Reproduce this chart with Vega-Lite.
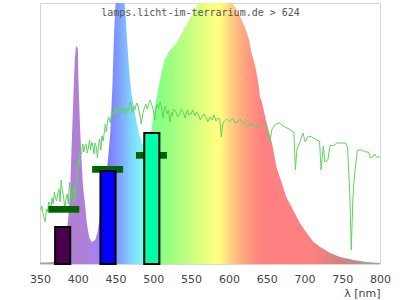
{
  "$schema": "https://vega.github.io/schema/vega-lite/v6.json",
  "width": 340,
  "height": 261,
  "autosize": "none",
  "padding": {"left": 40, "top": 3, "right": 20, "bottom": 36},
  "background": "white",
  "config": {
    "view": {"stroke": "#d6d6d6", "strokeWidth": 1},
    "font": "DejaVu Sans",
    "axis": {"labelOverlap": false, "labelFlush": false}
  },
  "resolve": {"axis": {"x": "independent"}},
  "datasets": {
    "spectrum": [
      {"nm": 350, "v": 1.5}, {"nm": 360, "v": 1.5}, {"nm": 366, "v": 2}, {"nm": 370, "v": 3},
      {"nm": 375, "v": 6}, {"nm": 380, "v": 12}, {"nm": 384, "v": 25}, {"nm": 387, "v": 43},
      {"nm": 390, "v": 75}, {"nm": 392, "v": 121}, {"nm": 394, "v": 164}, {"nm": 396, "v": 204},
      {"nm": 397.6, "v": 218}, {"nm": 400, "v": 216}, {"nm": 401, "v": 181}, {"nm": 403, "v": 137},
      {"nm": 405, "v": 104}, {"nm": 407, "v": 77}, {"nm": 410, "v": 57}, {"nm": 412, "v": 41},
      {"nm": 415, "v": 27}, {"nm": 418, "v": 22}, {"nm": 423, "v": 24}, {"nm": 426, "v": 31},
      {"nm": 430, "v": 50}, {"nm": 435, "v": 70}, {"nm": 440, "v": 105}, {"nm": 443, "v": 131},
      {"nm": 446, "v": 181}, {"nm": 448, "v": 231}, {"nm": 450.5, "v": 268}, {"nm": 455, "v": 300},
      {"nm": 459, "v": 292}, {"nm": 461.6, "v": 264}, {"nm": 463.4, "v": 247}, {"nm": 465.5, "v": 221},
      {"nm": 468, "v": 194}, {"nm": 471, "v": 171}, {"nm": 475, "v": 154}, {"nm": 478, "v": 141},
      {"nm": 481, "v": 131}, {"nm": 485, "v": 121}, {"nm": 489, "v": 116}, {"nm": 493, "v": 117},
      {"nm": 498, "v": 137}, {"nm": 502, "v": 157}, {"nm": 507, "v": 177}, {"nm": 511, "v": 192},
      {"nm": 515, "v": 204}, {"nm": 522, "v": 214}, {"nm": 529, "v": 219}, {"nm": 533, "v": 224},
      {"nm": 540, "v": 234}, {"nm": 546, "v": 242}, {"nm": 553, "v": 252}, {"nm": 560, "v": 262},
      {"nm": 575, "v": 285}, {"nm": 590, "v": 285}, {"nm": 601.5, "v": 264}, {"nm": 608, "v": 257},
      {"nm": 615, "v": 247}, {"nm": 621, "v": 237}, {"nm": 626, "v": 226}, {"nm": 630, "v": 211},
      {"nm": 635, "v": 197}, {"nm": 639, "v": 181}, {"nm": 641, "v": 167}, {"nm": 643, "v": 164},
      {"nm": 650, "v": 141}, {"nm": 657, "v": 121}, {"nm": 663, "v": 97}, {"nm": 670, "v": 81},
      {"nm": 676, "v": 67}, {"nm": 685, "v": 54}, {"nm": 694, "v": 41}, {"nm": 703, "v": 31},
      {"nm": 712, "v": 22}, {"nm": 721, "v": 17}, {"nm": 734, "v": 11}, {"nm": 747, "v": 7},
      {"nm": 765, "v": 4}, {"nm": 782, "v": 2}, {"nm": 800, "v": 1}
    ],
    "sun": [
      {"nm": 351, "v": 54}, {"nm": 352.5, "v": 58}, {"nm": 354, "v": 50}, {"nm": 355.5, "v": 46}, {"nm": 357, "v": 42},
      {"nm": 358.5, "v": 55}, {"nm": 360, "v": 52}, {"nm": 361.5, "v": 62}, {"nm": 363, "v": 60},
      {"nm": 364.5, "v": 55}, {"nm": 366, "v": 66}, {"nm": 367.5, "v": 60}, {"nm": 369, "v": 72},
      {"nm": 370.5, "v": 66}, {"nm": 372, "v": 63}, {"nm": 373.5, "v": 70}, {"nm": 375, "v": 75},
      {"nm": 376.5, "v": 62}, {"nm": 378, "v": 84}, {"nm": 379.5, "v": 74}, {"nm": 381, "v": 68},
      {"nm": 383, "v": 55}, {"nm": 384.5, "v": 66}, {"nm": 386, "v": 70}, {"nm": 387.5, "v": 60},
      {"nm": 389, "v": 82}, {"nm": 391, "v": 66}, {"nm": 393, "v": 62},
      {"nm": 395, "v": 78}, {"nm": 397, "v": 64}, {"nm": 399, "v": 90}, {"nm": 401, "v": 104},
      {"nm": 402, "v": 98}, {"nm": 403, "v": 114}, {"nm": 405, "v": 110}, {"nm": 406.5, "v": 120},
      {"nm": 408, "v": 112}, {"nm": 409.5, "v": 119}, {"nm": 411, "v": 120}, {"nm": 412.5, "v": 111},
      {"nm": 414, "v": 116}, {"nm": 415.5, "v": 124}, {"nm": 417, "v": 114}, {"nm": 418.5, "v": 122},
      {"nm": 420, "v": 118}, {"nm": 421.5, "v": 110}, {"nm": 423, "v": 121}, {"nm": 424.5, "v": 117},
      {"nm": 426, "v": 106}, {"nm": 427.5, "v": 119}, {"nm": 429, "v": 125}, {"nm": 430.5, "v": 114}, {"nm": 432, "v": 128},
      {"nm": 433.5, "v": 123}, {"nm": 435, "v": 131}, {"nm": 436.5, "v": 140}, {"nm": 438, "v": 132},
      {"nm": 439.5, "v": 143}, {"nm": 441, "v": 147}, {"nm": 443, "v": 141}, {"nm": 445, "v": 152},
      {"nm": 447, "v": 149}, {"nm": 449, "v": 157}, {"nm": 451, "v": 150}, {"nm": 453, "v": 153},
      {"nm": 455, "v": 158}, {"nm": 457, "v": 151}, {"nm": 459, "v": 156}, {"nm": 461, "v": 155},
      {"nm": 462.5, "v": 150}, {"nm": 464, "v": 156}, {"nm": 466, "v": 152}, {"nm": 468, "v": 157},
      {"nm": 469.5, "v": 162}, {"nm": 471, "v": 156}, {"nm": 472.5, "v": 151}, {"nm": 474, "v": 158},
      {"nm": 475.5, "v": 154}, {"nm": 477, "v": 159}, {"nm": 478.5, "v": 161}, {"nm": 480, "v": 157},
      {"nm": 482, "v": 150}, {"nm": 484, "v": 140}, {"nm": 486, "v": 150}, {"nm": 488, "v": 156}, {"nm": 490, "v": 160},
      {"nm": 492, "v": 155}, {"nm": 494, "v": 161}, {"nm": 496, "v": 164}, {"nm": 498, "v": 159},
      {"nm": 500, "v": 154}, {"nm": 502, "v": 144}, {"nm": 503.5, "v": 155}, {"nm": 505, "v": 160},
      {"nm": 507, "v": 155}, {"nm": 509, "v": 162}, {"nm": 511, "v": 156}, {"nm": 513, "v": 146},
      {"nm": 514.5, "v": 156}, {"nm": 516, "v": 158}, {"nm": 518, "v": 150}, {"nm": 520, "v": 154},
      {"nm": 522, "v": 142}, {"nm": 524, "v": 152}, {"nm": 525, "v": 148}, {"nm": 527, "v": 155}, {"nm": 530, "v": 152},
      {"nm": 532, "v": 147}, {"nm": 535, "v": 150}, {"nm": 537, "v": 155}, {"nm": 540, "v": 151},
      {"nm": 542, "v": 146}, {"nm": 545, "v": 154}, {"nm": 547, "v": 149}, {"nm": 550, "v": 150},
      {"nm": 552, "v": 154}, {"nm": 555, "v": 148}, {"nm": 557, "v": 152}, {"nm": 560, "v": 149},
      {"nm": 562, "v": 144}, {"nm": 565, "v": 148}, {"nm": 567, "v": 150}, {"nm": 570, "v": 146},
      {"nm": 572, "v": 142}, {"nm": 575, "v": 147}, {"nm": 578, "v": 144}, {"nm": 580, "v": 149},
      {"nm": 583, "v": 143}, {"nm": 585, "v": 146}, {"nm": 588, "v": 145}, {"nm": 590, "v": 127}, {"nm": 592, "v": 140}, {"nm": 594, "v": 143}, {"nm": 597, "v": 145},
      {"nm": 601, "v": 142}, {"nm": 605, "v": 146}, {"nm": 608, "v": 141}, {"nm": 612, "v": 143}, {"nm": 615, "v": 145}, {"nm": 618, "v": 140},
      {"nm": 621, "v": 142}, {"nm": 625, "v": 137}, {"nm": 628, "v": 140},
      {"nm": 632, "v": 140}, {"nm": 636, "v": 136}, {"nm": 640, "v": 141}, {"nm": 645, "v": 137}, {"nm": 650, "v": 138},
      {"nm": 654, "v": 121}, {"nm": 657, "v": 135}, {"nm": 662, "v": 140}, {"nm": 667, "v": 141},
      {"nm": 672, "v": 138}, {"nm": 677, "v": 136}, {"nm": 682, "v": 134}, {"nm": 686, "v": 132},
      {"nm": 688, "v": 94}, {"nm": 690, "v": 114}, {"nm": 694, "v": 122}, {"nm": 698, "v": 131},
      {"nm": 701, "v": 122}, {"nm": 705, "v": 128}, {"nm": 710, "v": 127}, {"nm": 716, "v": 124},
      {"nm": 720, "v": 123}, {"nm": 722, "v": 94}, {"nm": 725, "v": 118}, {"nm": 727, "v": 102},
      {"nm": 731, "v": 104}, {"nm": 734, "v": 119}, {"nm": 738, "v": 118}, {"nm": 743, "v": 121},
      {"nm": 749, "v": 121}, {"nm": 754, "v": 121}, {"nm": 757, "v": 117}, {"nm": 760, "v": 71},
      {"nm": 762, "v": 14}, {"nm": 764, "v": 64}, {"nm": 766, "v": 87}, {"nm": 770, "v": 114},
      {"nm": 776, "v": 114}, {"nm": 781, "v": 112}, {"nm": 785, "v": 112}, {"nm": 787, "v": 106}, {"nm": 790, "v": 107}, {"nm": 793, "v": 110}, {"nm": 795, "v": 107},
      {"nm": 800, "v": 107}
    ],
    "refs": [
      {"start": 361, "end": 402, "low": 51.3, "high": 58},
      {"start": 419, "end": 460, "low": 91.3, "high": 98},
      {"start": 477, "end": 518, "low": 105.3, "high": 112}
    ],
    "bands": [
      {"band": "UV", "start": 370, "end": 390, "value": 37},
      {"band": "blue", "start": 430, "end": 450, "value": 93},
      {"band": "cyan", "start": 488, "end": 508, "value": 131}
    ]
  },
  "layer": [
    {
      "data": {"name": "spectrum"},
      "mark": {
        "type": "area",
        "clip": true,
        "interpolate": "linear",
        "color": {
          "gradient": "linear",
          "x1": 0, "x2": 1, "y1": 0, "y2": 0,
          "stops": [
            {"offset": 0, "color": "#a0a0a0"},
            {"offset": 0.04, "color": "#a0a0a0"},
            {"offset": 0.0667, "color": "#b080d0"},
            {"offset": 0.1378, "color": "#b080d8"},
            {"offset": 0.16, "color": "#a880f0"},
            {"offset": 0.1822, "color": "#9880ff"},
            {"offset": 0.2044, "color": "#8080ff"},
            {"offset": 0.2267, "color": "#8098ff"},
            {"offset": 0.2489, "color": "#80b8ff"},
            {"offset": 0.2711, "color": "#80d8ff"},
            {"offset": 0.2933, "color": "#80f0f8"},
            {"offset": 0.3111, "color": "#80ffd0"},
            {"offset": 0.3333, "color": "#80ff90"},
            {"offset": 0.3556, "color": "#88ff80"},
            {"offset": 0.4, "color": "#a8ff80"},
            {"offset": 0.4556, "color": "#d0ff80"},
            {"offset": 0.5067, "color": "#f8ff80"},
            {"offset": 0.5289, "color": "#ffff80"},
            {"offset": 0.5556, "color": "#ffd880"},
            {"offset": 0.5889, "color": "#ffb080"},
            {"offset": 0.6222, "color": "#ff9480"},
            {"offset": 0.6556, "color": "#ff8080"},
            {"offset": 0.8, "color": "#ff8080"},
            {"offset": 0.8778, "color": "#d88080"},
            {"offset": 0.9333, "color": "#c08888"},
            {"offset": 0.951, "color": "#a0a0a0"},
            {"offset": 1, "color": "#a0a0a0"}
          ]
        }
      },
      "encoding": {
        "x": {
          "field": "nm", "type": "quantitative",
          "scale": {"domain": [350, 800], "nice": false, "zero": false},
          "axis": {
            "orient": "bottom",
            "values": [350, 400, 450, 500, 550, 600, 650, 700, 750, 800],
            "ticks": false, "tickSize": 0, "domain": false, "grid": false,
            "labelOverlap": false, "labelFlush": false, "labelBound": false,
            "labelPadding": 9, "labelFontSize": 11, "labelColor": "#444444",
            "labelFont": "DejaVu Sans",
            "title": "λ [nm]", "titleAnchor": "end", "titleFontSize": 11,
            "titleFontWeight": "normal", "titleColor": "#444444",
            "titleBaseline": "alphabetic", "titleY": 32,
            "titleFont": "DejaVu Sans"
          }
        },
        "y": {
          "field": "v", "type": "quantitative",
          "scale": {"domain": [0, 261], "nice": false, "zero": true},
          "axis": null
        }
      }
    },
    {
      "data": {"name": "sun"},
      "mark": {"type": "line", "color": "#5fd45f", "strokeWidth": 1, "clip": true},
      "encoding": {
        "x": {
          "field": "nm", "type": "quantitative",
          "axis": {
            "orient": "top", "labels": false, "ticks": false, "domain": false, "grid": false,
            "zindex": 2,
            "title": "lamps.licht-im-terrarium.de > 624",
            "titleFont": "DejaVu Sans Mono", "titleFontSize": 10, "titleFontWeight": "normal",
            "titleColor": "#555555", "titleAlign": "center", "titleAnchor": "middle",
            "titleBaseline": "alphabetic", "titleX": 160, "titleY": 12
          }
        },
        "y": {"field": "v", "type": "quantitative"}
      }
    },
    {
      "data": {"name": "refs"},
      "mark": {"type": "rect", "color": "#006400"},
      "encoding": {
        "x": {"field": "start", "type": "quantitative", "axis": null},
        "x2": {"field": "end"},
        "y": {"field": "low", "type": "quantitative"},
        "y2": {"field": "high"}
      }
    },
    {
      "data": {"name": "bands"},
      "mark": {"type": "rect", "stroke": "black", "strokeWidth": 2},
      "encoding": {
        "x": {"field": "start", "type": "quantitative", "axis": null},
        "x2": {"field": "end"},
        "y": {"field": "value", "type": "quantitative"},
        "y2": {"datum": 0},
        "fill": {
          "field": "band", "type": "nominal",
          "scale": {"domain": ["UV", "blue", "cyan"], "range": ["#4b004b", "#0000ff", "#00ffa8"]},
          "legend": null
        }
      }
    }
  ]
}
